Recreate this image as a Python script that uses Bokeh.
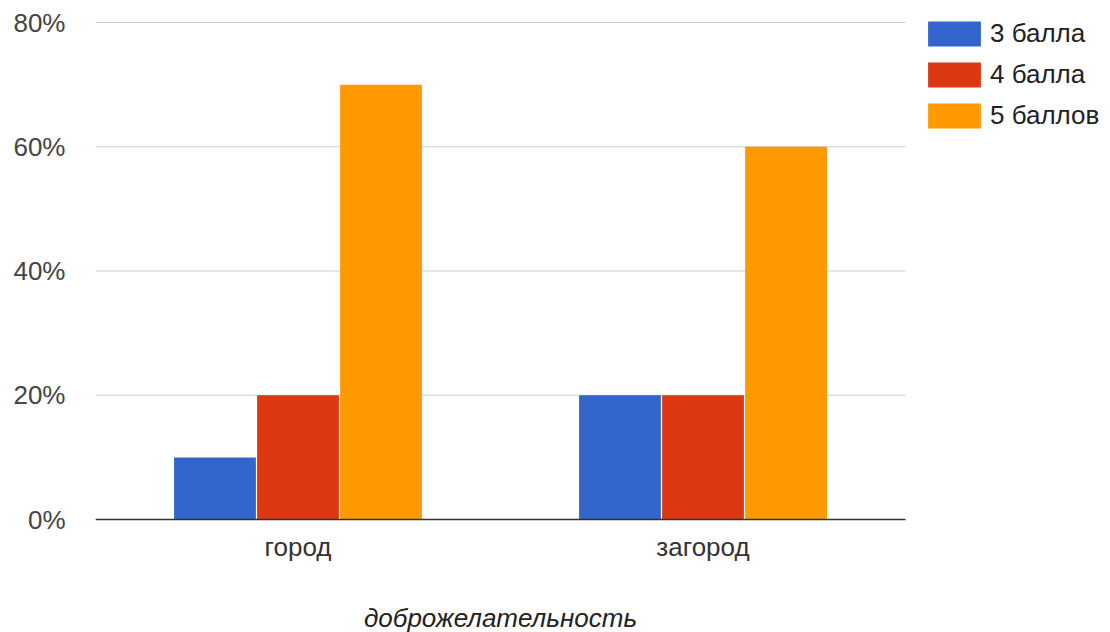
from bokeh.plotting import figure
from bokeh.models import (ColumnDataSource, Range1d, FixedTicker, NumeralTickFormatter,
                          Legend, LegendItem, Label)
from bokeh.core.properties import value
from bokeh.transform import dodge
from bokeh.embed import file_html
from bokeh.resources import INLINE

categories = ["город", "загород"]
series_names = ["3 балла", "4 балла", "5 баллов"]
score3 = [0.10, 0.20]
score4 = [0.20, 0.20]
score5 = [0.70, 0.60]
y_ticks = [0.0, 0.2, 0.4, 0.6, 0.8]
x_title = "доброжелательность"

colors = ["#3366CC", "#DC3912", "#FF9900"]
FONT = "Liberation Sans"
FS = "26px"

W, H = 1110, 632
LEFT = 95
PLOT_W, PLOT_TOP, PLOT_H = 810, 22, 497   # pixel box of the value area
Y_MAX = y_ticks[-1]

n = len(categories)
centers = [i + 0.5 for i in range(n)]
source = ColumnDataSource(dict(x=centers, cat=categories, s3=score3, s4=score4, s5=score5))

# The drawing frame covers the whole canvas right of the value labels, so that
# the category names, the title and the legend can all be placed inside it.
x_per_px = n / PLOT_W
y_per_px = Y_MAX / PLOT_H
x_range = Range1d(0, (W - LEFT) * x_per_px)
y_range = Range1d(-(H - PLOT_TOP - PLOT_H) * y_per_px, Y_MAX + PLOT_TOP * y_per_px)

p = figure(x_range=x_range, y_range=y_range, width=W, height=H,
           output_backend="svg", toolbar_location=None, x_axis_location=None,
           min_border_left=LEFT, min_border_right=0, min_border_top=0, min_border_bottom=0)
p.outline_line_color = None
p.grid.visible = False

# horizontal grid lines across the category span
p.segment(x0=[0] * len(y_ticks), x1=[n] * len(y_ticks), y0=y_ticks, y1=y_ticks,
          line_color="#CCCCCC", line_width=1, level="underlay")

renderers = []
for col, off, color in zip(["s3", "s4", "s5"], [-0.205, 0.0, 0.205], colors):
    r = p.vbar(x=dodge("x", off), top=col, width=0.202, source=source,
               fill_color=color, line_color=None)
    renderers.append(r)

# baseline
p.segment(x0=[0], x1=[n], y0=[y_ticks[0]], y1=[y_ticks[0]],
          line_color="#333333", line_width=1.5)

# category names under the groups
p.text(x=centers, y=[y_ticks[0]] * n, text=categories, text_align="center",
       text_baseline="middle", y_offset=27, text_font=value(FONT),
       text_font_size=FS, text_color="#333333")

# axis title
p.add_layout(Label(x=n / 2, y=15, y_units="screen", text=x_title, text_align="center",
                   text_baseline="middle", text_font=FONT, text_font_size=FS,
                   text_font_style="italic", text_color="#222222"))

# y axis
p.yaxis.ticker = FixedTicker(ticks=y_ticks)
p.yaxis.formatter = NumeralTickFormatter(format="0%")
p.yaxis.axis_line_color = None
p.yaxis.major_tick_line_color = None
p.yaxis.minor_tick_line_color = None
p.yaxis.major_label_standoff = 24
p.yaxis.major_label_text_font = FONT
p.yaxis.major_label_text_font_size = FS
p.yaxis.major_label_text_color = "#444444"

# legend swatches are drawn inset by 10% of the glyph box on each side
legend = Legend(items=[LegendItem(label=nm, renderers=[r]) for nm, r in zip(series_names, renderers)],
                location=(826, 501), glyph_width=66, glyph_height=31, spacing=10,
                label_standoff=3, padding=0, margin=0, border_line_color=None,
                background_fill_alpha=0, label_text_font=FONT, label_text_font_size=FS,
                label_text_color="#222222", label_height=25)
p.add_layout(legend, "center")

open("out.html", "w").write(file_html(p, INLINE))
